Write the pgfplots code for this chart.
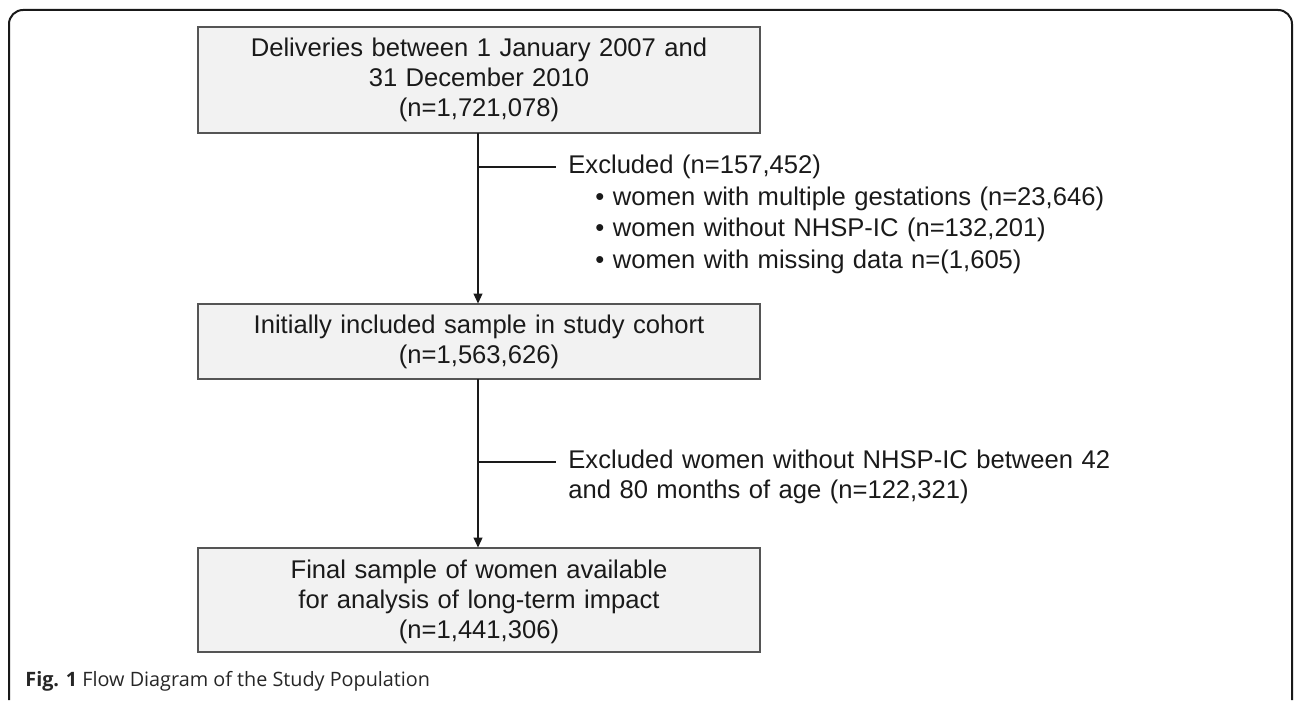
\documentclass[border=0pt]{standalone}
\usepackage{pgfplots}
\pgfplotsset{compat=1.18}
\usetikzlibrary{arrows.meta}
\usepackage{fontspec}
\setmainfont{Liberation Sans}
\newfontfamily\capfont{Open Sans}
\definecolor{boxfill}{HTML}{F2F2F2}
\definecolor{boxline}{HTML}{555555}
\definecolor{txt}{HTML}{1A1A1A}
\newcommand\bx{\fontsize{12.8}{15}\selectfont\spaceskip=0.33em plus 0.1em\relax}
\begin{document}
\begin{tikzpicture}
\begin{axis}[
  scale only axis, width=648pt, height=348.5pt,
  xmin=0, xmax=1296, ymin=0, ymax=697, y dir=reverse,
  hide axis, clip=false]
% invisible bounding
\path (axis cs:0,0) rectangle (axis cs:1296,697);
% outer frame
\draw[line width=1pt, rounded corners=7pt, black!90] (axis cs:9,700) -- (axis cs:9,10) -- (axis cs:1292,10) -- (axis cs:1292,700);
% boxes
\draw[fill=boxfill, draw=boxline, line width=0.75pt] (axis cs:198,27) rectangle (axis cs:760,133);
\draw[fill=boxfill, draw=boxline, line width=0.75pt] (axis cs:198,304) rectangle (axis cs:760,379);
\draw[fill=boxfill, draw=boxline, line width=0.75pt] (axis cs:198,548) rectangle (axis cs:760,652);
% arrows
\draw[line width=0.6pt, txt, -{Triangle[width=4.5pt,length=5pt]}] (axis cs:478,133) -- (axis cs:478,303.5);
\draw[line width=0.6pt, txt, -{Triangle[width=4.5pt,length=5pt]}] (axis cs:478,379) -- (axis cs:478,547.5);
\draw[line width=0.6pt, txt] (axis cs:478,167) -- (axis cs:556,167);
\draw[line width=0.6pt, txt] (axis cs:478,462) -- (axis cs:556,462);
% box texts
\begin{scope}[every node/.style={font=\bx, text=txt, inner sep=0pt}]
\node[anchor=mid] at (axis cs:479,51) {Deliveries between 1 January 2007 and};
\node[anchor=mid] at (axis cs:479,81) {31 December 2010};
\node[anchor=mid] at (axis cs:479,111) {(n=1,721,078)};
\node[anchor=mid] at (axis cs:479,328) {Initially included sample in study cohort};
\node[anchor=mid] at (axis cs:479,358) {(n=1,563,626)};
\node[anchor=mid] at (axis cs:479,573) {Final sample of women available};
\node[anchor=mid] at (axis cs:479,603) {for analysis of long-term impact};
\node[anchor=mid] at (axis cs:479,633) {(n=1,441,306)};
\node[anchor=mid west] at (axis cs:568,168) {Excluded (n=157,452)};
\node[anchor=mid west] at (axis cs:595,200) {\textbullet\ women with multiple gestations (n=23,646)};
\node[anchor=mid west] at (axis cs:595,231) {\textbullet\ women without NHSP-IC (n=132,201)};
\node[anchor=mid west] at (axis cs:595,263) {\textbullet\ women with missing data n=(1,605)};
\node[anchor=mid west] at (axis cs:568,463) {Excluded women without NHSP-IC between 42};
\node[anchor=mid west] at (axis cs:568,493) {and 80 months of age (n=122,321)};
\end{scope}
\node[anchor=mid west, inner sep=0pt, font=\capfont\fontsize{9.9}{12}\selectfont, text=black!85] at (axis cs:25,681) {\textbf{Fig. 1} Flow Diagram of the Study Population};
\end{axis}
\end{tikzpicture}
\end{document}
